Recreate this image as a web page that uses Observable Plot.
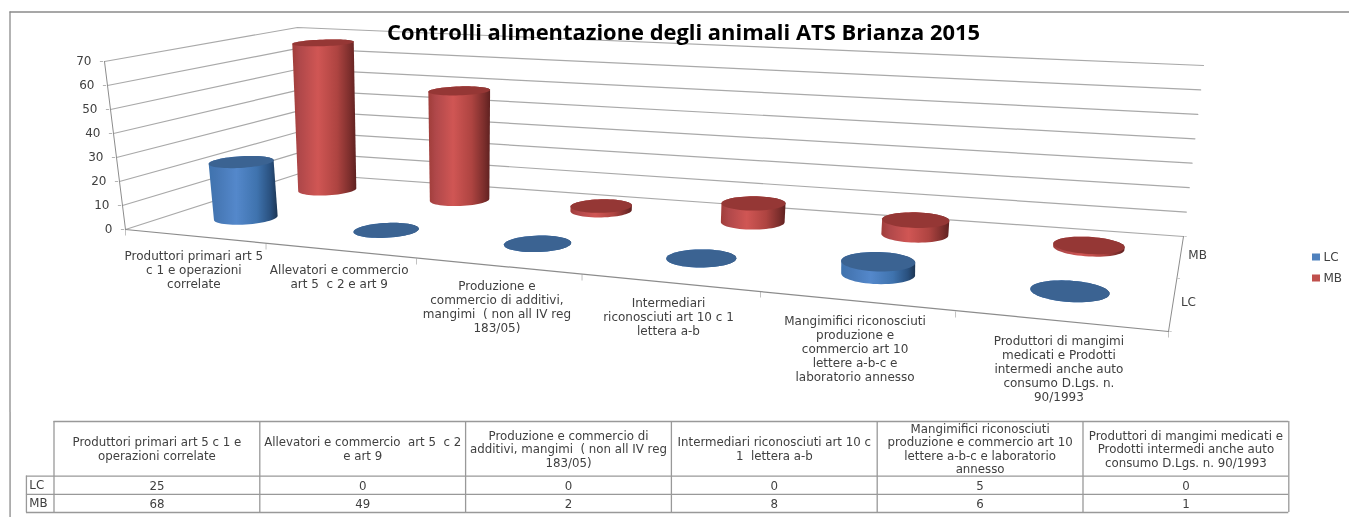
<!DOCTYPE html>
<html><head><meta charset="utf-8">
<script src="https://cdn.jsdelivr.net/npm/d3@7"></script>
<script src="https://cdn.jsdelivr.net/npm/@observablehq/plot@0.6"></script>
<style>
html,body{margin:0;padding:0;background:#fff;overflow:hidden}
#root{width:1349px;height:517px}
#root svg{display:block;filter:blur(.35px)}
</style></head><body><div id="root"></div>
<script>
const titleText = "Controlli alimentazione degli animali ATS Brianza 2015";
const axisLabels = [
 "Produttori primari art 5\nc 1 e operazioni\ncorrelate",
 "Allevatori e commercio\nart 5  c 2 e art 9",
 "Produzione e\ncommercio di additivi,\nmangimi  ( non all IV reg\n183/05)",
 "Intermediari\nriconosciuti art 10 c 1\nlettera a-b",
 "Mangimifici riconosciuti\nproduzione e\ncommercio art 10\nlettere a-b-c e\nlaboratorio annesso",
 "Produttori di mangimi\nmedicati e Prodotti\nintermedi anche auto\nconsumo D.Lgs. n.\n90/1993"
];
const tableHeads = [
 "Produttori primari art 5 c 1 e\noperazioni correlate",
 "Allevatori e commercio  art 5  c 2\ne art 9",
 "Produzione e commercio di\nadditivi, mangimi  ( non all IV reg\n183/05)",
 "Intermediari riconosciuti art 10 c\n1  lettera a-b",
 "Mangimifici riconosciuti\nproduzione e commercio art 10\nlettere a-b-c e laboratorio\nannesso",
 "Produttori di mangimi medicati e\nProdotti intermedi anche auto\nconsumo D.Lgs. n. 90/1993"
];
const seriesNames = ["LC","MB"];
const LC = [25,0,0,0,5,0];
const MB = [68,49,2,8,6,1];
const valueTicks = [0,10,20,30,40,50,60,70];
const seriesColor = {LC:"#4f81bd",MB:"#c0504d"};
const capColor = {LC:"#3b6392",MB:"#953735"};

// perspective of the 3D box: floor corners [front-left, back-left, back-right, front-right]
const floorQ = [[125,229],[299,173],[1183,236],[1168,331]];
// the screen vector of the full value axis (0 to 70) at the same four corners
const riseQ  = [[-21,-168],[-2,-146],[20,-171],[1,-197]];
const VMAX = 70;
function homog(q){ // unit square (u,w) -> quad; w=0 front, w=1 back
  const [p00,p01,p11,p10]=q;
  const dx1=p10[0]-p11[0],dx2=p01[0]-p11[0],sx=p00[0]-p10[0]+p11[0]-p01[0];
  const dy1=p10[1]-p11[1],dy2=p01[1]-p11[1],sy=p00[1]-p10[1]+p11[1]-p01[1];
  const den=dx1*dy2-dx2*dy1;
  const g=(sx*dy2-dx2*sy)/den,h=(dx1*sy-sx*dy1)/den;
  const a=p10[0]-p00[0]+g*p10[0],b=p01[0]-p00[0]+h*p01[0],c=p00[0];
  const d=p10[1]-p00[1]+g*p10[1],e=p01[1]-p00[1]+h*p01[1],f=p00[1];
  return (u,w)=>{const k=g*u+h*w+1;return [(a*u+b*w+c)/k,(d*u+e*w+f)/k];};
}
const F=homog(floorQ);
const warpU=d3.scaleLinear().domain(d3.range(7).map(i=>i/6)).range([0,1.076,2.113,3.133,4.115,5.074,6].map(d=>d/6));
const rise=(u,w,k)=>{const [a,b,c,d]=riseQ;return ((a[k]*(1-w)+b[k]*w)*(1-u)+(d[k]*(1-w)+c[k]*w)*u);};
const place=(u,w,v)=>{const a=F(u,w),t=v/VMAX;return [a[0]+rise(u,w,0)*t,a[1]+rise(u,w,1)*t];};
const project=(u,w,v)=>place(warpU(u),w,v);
const rowW={LC:0.28,MB:0.77};
const rowShift={LC:-0.001,MB:0};
const rowCyl={LC:0.95,MB:0.985};
const RU=0.0343,RW=0.105;
const angles=d3.range(0,360,6).map(d=>d*Math.PI/180);
const vals={LC,MB};
function circle(i,s,v){const uc=warpU((i+.5)/6)+rowShift[s],wc=rowW[s],ru=RU*(1-0.12*uc);return angles.map(a=>place(uc+ru*Math.cos(a),wc+RW*Math.sin(a),v*rowCyl[s]));}
function sideRows(s){return vals[s].flatMap((v,i)=>{const h=d3.polygonHull([...circle(i,s,0),...circle(i,s,v)]);return h.map(p=>({x:p[0],y:p[1],id:i}));});}
function capRows(s){return vals[s].flatMap((v,i)=>circle(i,s,v).map(p=>({x:p[0],y:p[1],id:i})));}

const gridRows=valueTicks.flatMap(v=>[[0,0],[0,1],[1,1]].map(([u,w])=>{const p=project(u,w,v);return {x:p[0],y:p[1],v};}));
const P=(u,w,v)=>{const p=project(u,w,v);return {x:p[0],y:p[1]};};
const axisV=[P(0,0,0),P(0,0,VMAX)];
const frontEdge=[P(0,0,0),P(1,0,0)];
const sideEdge=[P(1,0,0),P(1,1,0)];
const frontTicks=d3.range(0,7).map(i=>P(i/6,0,0));
const sideTicks=d3.range(0,3).map(i=>P(1,i/2,0));
const valueTickRows=valueTicks.map(v=>({...P(0,0,v),v}));
const catLabelRows=axisLabels.map((t,i)=>({...P((i+.5)/6,0,0),t}));
const serLabelRows=seriesNames.map((t,i)=>({...P(1,(i+.5)/2,0),t}));

const gradient=(id,stops)=>`<linearGradient id="${id}" x1="0" x2="1" y1="0" y2="0">${stops.map(([o,c])=>`<stop offset="${o}" stop-color="${c}"/>`).join("")}</linearGradient>`;
const defs=()=>{const g=d3.create("svg:defs");g.html(
 gradient("gLC",[[0,"#3f73ae"],[.12,"#4677b4"],[.4,"#5488cb"],[.7,"#3f73ae"],[.9,"#29507e"],[1,"#1d3654"]])+
 gradient("gMB",[[0,"#a03d3a"],[.12,"#b0484a"],[.4,"#d05654"],[.7,"#ae4441"],[.9,"#7c2e2c"],[1,"#5f2120"]]));return g.node();};

const txt="#404040", grid="#a9a9a9", edge="#8c8c8c";
const AF='"DejaVu Sans"';
const seriesMarks=s=>[
 Plot.line(sideRows(s),{x:"x",y:"y",z:"id",fill:`url(#g${s})`,stroke:"none"}),
 Plot.line(capRows(s),{x:"x",y:"y",z:"id",fill:capColor[s],stroke:"none"})
];
const chart=Plot.plot({
 width:1349,height:412,margin:0,
 x:{domain:[0,1349],range:[0,1349],axis:null},
 y:{domain:[0,412],range:[0,412],axis:null},
 marks:[
  defs,
  Plot.ruleY([11.5],{x1:9.5,x2:1349,stroke:"#8a8a8a",strokeWidth:1.3}),
  Plot.ruleX([9.5],{y1:11.5,y2:412,stroke:"#8a8a8a",strokeWidth:1.3}),
  Plot.line(gridRows,{x:"x",y:"y",z:"v",stroke:grid,strokeWidth:1.2}),
  Plot.line(axisV,{x:"x",y:"y",stroke:edge,strokeWidth:1}),
  Plot.line(frontEdge,{x:"x",y:"y",stroke:edge,strokeWidth:1.2}),
  Plot.line(sideEdge,{x:"x",y:"y",stroke:edge,strokeWidth:1}),
  Plot.text(valueTickRows,{x:"x",y:"y",text:"v",dx:-13,textAnchor:"end",fontFamily:AF,fontSize:12,fill:txt}),
  Plot.text(valueTickRows,{x:"x",y:"y",text:()=>"–",dx:-3,fill:edge,fontSize:8,fontFamily:AF}),
  Plot.text(frontTicks,{x:"x",y:"y",text:()=>"|",dy:3,fill:edge,fontSize:6,fontFamily:AF}),
  Plot.text(sideTicks,{x:"x",y:"y",text:()=>"–",dx:2,fill:edge,fontSize:6,fontFamily:AF}),
  ...seriesMarks("MB"),
  ...seriesMarks("LC"),
  Plot.text(catLabelRows,{x:"x",y:"y",text:"t",dy:14,lineAnchor:"top",lineHeight:1.17,fontFamily:AF,fontSize:12,fill:txt}),
  Plot.text(serLabelRows,{x:"x",y:"y",text:"t",dx:8,dy:-1,textAnchor:"start",fontFamily:AF,fontSize:12,fill:txt}),
  Plot.text([titleText],{x:()=>683,y:()=>32,text:d=>d,fontFamily:'"Open Sans"',fontWeight:700,fontSize:21.9,fill:"#000"}),
  Plot.rect(seriesNames,{x1:()=>1312,x2:()=>1320,y1:(d,i)=>253.5+i*21,y2:(d,i)=>260.5+i*21,fill:d=>seriesColor[d]}),
  Plot.text(seriesNames,{x:()=>1323,y:(d,i)=>257+i*21,text:d=>d,textAnchor:"start",fontFamily:AF,fontSize:12,fill:txt})
 ],
 color:{type:"identity"}
});
document.getElementById("root").append(chart);

// data table: columns are categories, rows are header + series
const tRows=[{y:1.5,text:tableHeads},{y:3.5,text:LC.map(String)},{y:4.5,text:MB.map(String)}];
const cellRows=tRows.flatMap(r=>r.text.map((t,i)=>({col:i+.5,row:r.y,t})));
const table=Plot.plot({
 width:1349,height:105,margin:0,
 x:{domain:[0,6],range:[53.5,1288.3],axis:null},
 y:{domain:[0,5],range:[9,100],axis:null},
 marks:[
  Plot.ruleX([-0.2135],{y1:-1,y2:5.3,stroke:"#8a8a8a",strokeWidth:1.3}),
  Plot.ruleX(d3.range(0,7),{y1:0,y2:5,stroke:"#999",strokeWidth:1.3}),
  Plot.ruleX([-0.134],{y1:3,y2:5,stroke:"#999",strokeWidth:1.3}),
  Plot.ruleY([0],{x1:0,x2:6,stroke:"#999",strokeWidth:1.3}),
  Plot.ruleY([3,4,5],{x1:-0.134,x2:6,stroke:"#999",strokeWidth:1.3}),
  Plot.text(cellRows,{x:"col",y:"row",text:"t",fontFamily:AF,fontSize:11.8,lineHeight:1.15,fill:txt}),
  Plot.text(seriesNames.map((s,i)=>({s,row:3.5+i})),{x:()=>-0.12,y:"row",text:"s",textAnchor:"start",fontFamily:AF,fontSize:11.8,fill:txt})
 ]
});
document.getElementById("root").append(table);
</script></body></html>
